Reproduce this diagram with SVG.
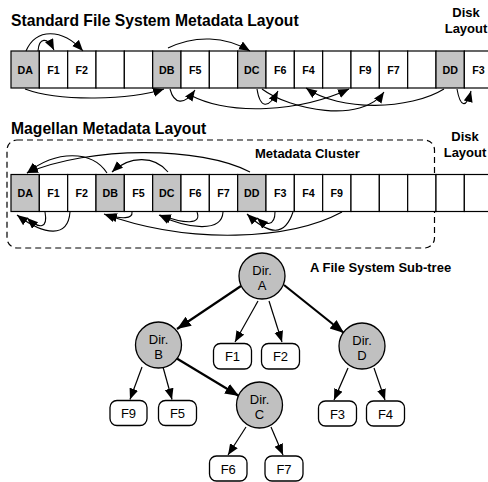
<svg xmlns="http://www.w3.org/2000/svg" width="488" height="482" viewBox="0 0 488 482">
  <style>
    .title { font-family: "Liberation Sans", Arial, sans-serif; font-weight: bold; font-size: 15.7px; fill: #000; }
    .label { font-family: "Liberation Sans", Arial, sans-serif; font-weight: bold; font-size: 13px; fill: #000; }
    .cell rect { stroke: #000; stroke-width: 1.2; fill: #fff; }
    .cell.dir rect { fill: #c4c4c4; }
    .cell text { font-family: "Liberation Sans", Arial, sans-serif; font-weight: bold; font-size: 10.7px; text-anchor: middle; fill: #000; }
    .dirnode circle { fill: #c0c0c0; stroke: #000; stroke-width: 1.3; }
    .filenode rect { fill: #fff; stroke: #000; stroke-width: 1.3; }
    .tree text { font-family: "Liberation Sans", Arial, sans-serif; font-size: 13px; text-anchor: middle; fill: #000; }
    .link { fill: none; stroke: #000; stroke-width: 1.1; marker-end: url(#head); }
    .edge { fill: none; stroke: #000; stroke-width: 1.2; marker-end: url(#head); }
    .edge.main { stroke-width: 2.2; marker-end: url(#headBig); }
    .cluster { fill: none; stroke: #000; stroke-width: 1.2; stroke-dasharray: 6 4; }
  </style>
  <defs>
    <marker id="head" markerUnits="userSpaceOnUse" markerWidth="12" markerHeight="10" refX="11" refY="4.5" orient="auto">
      <path d="M0,0 L11,4.5 L0,9 Z" fill="#000"/>
    </marker>
    <marker id="headBig" markerUnits="userSpaceOnUse" markerWidth="15" markerHeight="12" refX="14" refY="5.5" orient="auto">
      <path d="M0,0 L14,5.5 L0,11 Z" fill="#000"/>
    </marker>
  </defs>

  <rect width="488" height="482" fill="#fff"/>

  <!-- headings -->
  <text class="title" x="11" y="26">Standard File System Metadata Layout</text>
  <text class="label" x="466" y="17" text-anchor="middle">Disk</text>
  <text class="label" x="466" y="33" text-anchor="middle">Layout</text>
  <text class="title" x="11" y="133.5">Magellan Metadata Layout</text>
  <text class="label" x="255" y="158">Metadata Cluster</text>
  <text class="label" x="465" y="141" text-anchor="middle">Disk</text>
  <text class="label" x="465" y="157" text-anchor="middle">Layout</text>
  <text class="label" x="310" y="272">A File System Sub-tree</text>

  <!-- metadata cluster boundary -->
  <rect class="cluster" x="7" y="140" width="427.5" height="108" rx="10"/>

  <!-- standard layout: one block per cell -->
  <g id="std-row">
    <g id="std-DA" class="cell dir"><rect x="11" y="51" width="28.33" height="37"/><text x="25.17" y="73.5">DA</text></g>
    <g id="std-F1" class="cell"><rect x="39.33" y="51" width="28.33" height="37"/><text x="53.5" y="73.5">F1</text></g>
    <g id="std-F2" class="cell"><rect x="67.67" y="51" width="28.33" height="37"/><text x="81.83" y="73.5">F2</text></g>
    <g id="std-e3" class="cell"><rect x="96" y="51" width="28.33" height="37"/></g>
    <g id="std-e4" class="cell"><rect x="124.33" y="51" width="28.33" height="37"/></g>
    <g id="std-DB" class="cell dir"><rect x="152.67" y="51" width="28.33" height="37"/><text x="166.83" y="73.5">DB</text></g>
    <g id="std-F5" class="cell"><rect x="181" y="51" width="28.33" height="37"/><text x="195.17" y="73.5">F5</text></g>
    <g id="std-e7" class="cell"><rect x="209.33" y="51" width="28.33" height="37"/></g>
    <g id="std-DC" class="cell dir"><rect x="237.67" y="51" width="28.33" height="37"/><text x="251.83" y="73.5">DC</text></g>
    <g id="std-F6" class="cell"><rect x="266" y="51" width="28.33" height="37"/><text x="280.17" y="73.5">F6</text></g>
    <g id="std-F4" class="cell"><rect x="294.33" y="51" width="28.33" height="37"/><text x="308.5" y="73.5">F4</text></g>
    <g id="std-e11" class="cell"><rect x="322.67" y="51" width="28.33" height="37"/></g>
    <g id="std-F9" class="cell"><rect x="351" y="51" width="28.33" height="37"/><text x="365.17" y="73.5">F9</text></g>
    <g id="std-F7" class="cell"><rect x="379.33" y="51" width="28.33" height="37"/><text x="393.5" y="73.5">F7</text></g>
    <g id="std-e14" class="cell"><rect x="407.67" y="51" width="28.33" height="37"/></g>
    <g id="std-DD" class="cell dir"><rect x="436" y="51" width="28.33" height="37"/><text x="450.17" y="73.5">DD</text></g>
    <g id="std-F3" class="cell"><rect x="464.33" y="51" width="28.33" height="37"/><text x="478.5" y="73.5">F3</text></g>
  </g>

  <!-- magellan layout -->
  <g id="mag-row">
    <g id="mag-DA" class="cell dir"><rect x="11" y="174.5" width="28.33" height="37"/><text x="25.17" y="197">DA</text></g>
    <g id="mag-F1" class="cell"><rect x="39.33" y="174.5" width="28.33" height="37"/><text x="53.5" y="197">F1</text></g>
    <g id="mag-F2" class="cell"><rect x="67.67" y="174.5" width="28.33" height="37"/><text x="81.83" y="197">F2</text></g>
    <g id="mag-DB" class="cell dir"><rect x="96" y="174.5" width="28.33" height="37"/><text x="110.17" y="197">DB</text></g>
    <g id="mag-F5" class="cell"><rect x="124.33" y="174.5" width="28.33" height="37"/><text x="138.5" y="197">F5</text></g>
    <g id="mag-DC" class="cell dir"><rect x="152.67" y="174.5" width="28.33" height="37"/><text x="166.83" y="197">DC</text></g>
    <g id="mag-F6" class="cell"><rect x="181" y="174.5" width="28.33" height="37"/><text x="195.17" y="197">F6</text></g>
    <g id="mag-F7" class="cell"><rect x="209.33" y="174.5" width="28.33" height="37"/><text x="223.5" y="197">F7</text></g>
    <g id="mag-DD" class="cell dir"><rect x="237.67" y="174.5" width="28.33" height="37"/><text x="251.83" y="197">DD</text></g>
    <g id="mag-F3" class="cell"><rect x="266" y="174.5" width="28.33" height="37"/><text x="280.17" y="197">F3</text></g>
    <g id="mag-F4" class="cell"><rect x="294.33" y="174.5" width="28.33" height="37"/><text x="308.5" y="197">F4</text></g>
    <g id="mag-F9" class="cell"><rect x="322.67" y="174.5" width="28.33" height="37"/><text x="336.83" y="197">F9</text></g>
    <g id="mag-e12" class="cell"><rect x="351" y="174.5" width="28.33" height="37"/></g>
    <g id="mag-e13" class="cell"><rect x="379.33" y="174.5" width="28.33" height="37"/></g>
    <g id="mag-e14" class="cell"><rect x="407.67" y="174.5" width="28.33" height="37"/></g>
    <g id="mag-e15" class="cell"><rect x="436" y="174.5" width="28.33" height="37"/></g>
    <g id="mag-e16" class="cell"><rect x="464.33" y="174.5" width="28.33" height="37"/></g>
  </g>

  <!-- pointers between cells -->
  <g id="layout-links">
    <!-- standard: above the row -->
    <path class="link" d="M38,51 C39,38 47,36 54,50"/>
    <path class="link" d="M26,51 C36,28 62,28 83,51"/>
    <path class="link" d="M168,48 C195,35 225,36 250,51"/>
    <!-- standard: below the row -->
    <path class="link" d="M25,89 C60,102 130,100 164,89"/>
    <path class="link" d="M170,89 C174,104 184,106 195,90"/>
    <path class="link" d="M190,95 C230,116 300,112 349,89"/>
    <path class="link" d="M257,89 C260,108 268,110 278,91"/>
    <path class="link" d="M262,89 C290,110 362,124 384,92"/>
    <path class="link" d="M444,89 C410,110 340,112 306,88"/>
    <path class="link" d="M457,89 C460,106 466,110 471,91"/>
    <!-- magellan: above the row -->
    <path class="link" d="M107,173 C92,150 56,150 27,173"/>
    <path class="link" d="M250,172 C200,146 90,146 27,173"/>
    <path class="link" d="M168,172 C155,156 130,155 112,172"/>
    <!-- magellan: below the row -->
    <path class="link" d="M45,212 C48,228 40,230 27,218"/>
    <path class="link" d="M70,212 C68,238 45,236 17,215"/>
    <path class="link" d="M132,212 C133,219 122,219 106,215"/>
    <path class="link" d="M342,212 C290,240 190,245 104,214"/>
    <path class="link" d="M197,212 C202,225 185,224 160,215"/>
    <path class="link" d="M223,212 C222,232 190,230 159,215"/>
    <path class="link" d="M275,212 C275,226 266,226 257,218"/>
    <path class="link" d="M293,212 C285,236 270,236 247,214"/>
  </g>

  <!-- sub-tree edges -->
  <g id="tree-edges">
    <path class="edge main" d="M241,286 L177,329"/>
    <path class="edge" d="M258,301 L235,342"/>
    <path class="edge" d="M269,301 L282,342"/>
    <path class="edge main" d="M284,285 L344,333"/>
    <path class="edge main" d="M176,358 L239,396"/>
    <path class="edge" d="M142,367 L130,399.5"/>
    <path class="edge" d="M163,367 L172,399.5"/>
    <path class="edge" d="M246,427 L228,455"/>
    <path class="edge" d="M271,427 L283,455"/>
    <path class="edge" d="M348,368 L334,400"/>
    <path class="edge" d="M374,368 L385,400"/>
  </g>

  <!-- sub-tree nodes -->
  <g class="tree">
    <g id="dirA" class="dirnode"><circle cx="262" cy="276" r="23"/><text x="262" y="275">Dir.</text><text x="262" y="290">A</text></g>
    <g id="dirB" class="dirnode"><circle cx="158.5" cy="345" r="23"/><text x="158.5" y="344">Dir.</text><text x="158.5" y="359">B</text></g>
    <g id="dirC" class="dirnode"><circle cx="259.5" cy="405" r="23"/><text x="259.5" y="404">Dir.</text><text x="259.5" y="419">C</text></g>
    <g id="dirD" class="dirnode"><circle cx="362" cy="346" r="23"/><text x="362" y="345">Dir.</text><text x="362" y="360">D</text></g>
    <g id="fileF1" class="filenode"><rect x="213.5" y="343.5" width="38" height="25.5" rx="7"/><text x="232.5" y="361">F1</text></g>
    <g id="fileF2" class="filenode"><rect x="261.5" y="343.5" width="38" height="25.5" rx="7"/><text x="280.5" y="361">F2</text></g>
    <g id="fileF9" class="filenode"><rect x="110" y="400.5" width="37" height="25" rx="7"/><text x="128.5" y="418">F9</text></g>
    <g id="fileF5" class="filenode"><rect x="158.5" y="400.5" width="38" height="25" rx="7"/><text x="177.5" y="418">F5</text></g>
    <g id="fileF3" class="filenode"><rect x="318.5" y="401" width="38" height="25" rx="7"/><text x="337.5" y="418.5">F3</text></g>
    <g id="fileF4" class="filenode"><rect x="366.5" y="401" width="38" height="25" rx="7"/><text x="385.5" y="418.5">F4</text></g>
    <g id="fileF6" class="filenode"><rect x="209.5" y="456" width="37.5" height="25" rx="7"/><text x="228.25" y="473.5">F6</text></g>
    <g id="fileF7" class="filenode"><rect x="265" y="456" width="38" height="25" rx="7"/><text x="284" y="473.5">F7</text></g>
  </g>
</svg>
